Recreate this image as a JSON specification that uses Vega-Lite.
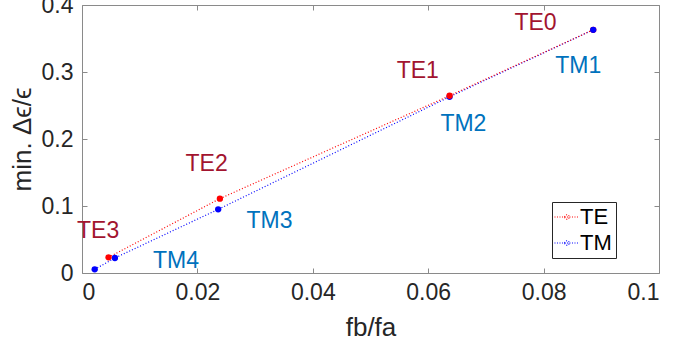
{
  "$schema": "https://vega.github.io/schema/vega-lite/v6.json",
  "autosize": "none",
  "padding": {"left": 82, "top": 5, "right": 14, "bottom": 89},
  "width": 577,
  "height": 268,
  "background": "white",
  "config": {
    "view": {"stroke": null},
    "font": "Liberation Sans",
    "axis": {
      "grid": false,
      "domainColor": "#8a8a8a",
      "tickColor": "#8a8a8a",
      "tickSize": -5,
      "labelFont": "Liberation Sans",
      "labelFontSize": 23,
      "labelColor": "#262626",
      "titleFont": "Liberation Sans",
      "titleFontWeight": "normal",
      "titleColor": "#262626",
      "titleFontSize": 26
    }
  },
  "datasets": {
    "pts": [
      {"mode": "TM", "x": 0.0022, "y": 0.0055},
      {"mode": "TM", "x": 0.0057, "y": 0.0224},
      {"mode": "TM", "x": 0.0236, "y": 0.095},
      {"mode": "TM", "x": 0.0637, "y": 0.263},
      {"mode": "TE", "x": 0.0046, "y": 0.0234},
      {"mode": "TE", "x": 0.0239, "y": 0.111},
      {"mode": "TE", "x": 0.0637, "y": 0.2646},
      {"mode": "TE", "x": 0.0886, "y": 0.363},
      {"mode": "TM", "x": 0.0886, "y": 0.363}
    ],
    "labels": [
      {"mode": "TE", "label": "TE0", "x": 0.0786, "y": 0.3726},
      {"mode": "TE", "label": "TE1", "x": 0.0582, "y": 0.3022},
      {"mode": "TE", "label": "TE2", "x": 0.0216, "y": 0.1624},
      {"mode": "TE", "label": "TE3", "x": 0.0028, "y": 0.063},
      {"mode": "TM", "label": "TM1", "x": 0.086, "y": 0.3094},
      {"mode": "TM", "label": "TM2", "x": 0.0661, "y": 0.2221},
      {"mode": "TM", "label": "TM3", "x": 0.0325, "y": 0.0779},
      {"mode": "TM", "label": "TM4", "x": 0.0163, "y": 0.0182}
    ]
  },
  "layer": [
    {
      "data": {"name": "pts"},
      "mark": {"type": "line", "strokeDash": [1, 2], "strokeWidth": 1.2},
      "encoding": {
        "x": {"field": "x", "type": "quantitative", "scale": {"domain": [0, 0.1], "nice": false},
          "axis": {"values": [0, 0.02, 0.04, 0.06, 0.08, 0.1], "format": "~g", "title": "fb/fa", "labelPadding": 13, "titlePadding": 10}},
        "y": {"field": "y", "type": "quantitative", "scale": {"domain": [0, 0.4], "nice": false},
          "axis": {"values": [0, 0.1, 0.2, 0.3, 0.4], "format": "~g", "title": "min. Δϵ/ϵ", "labelPadding": 14, "titlePadding": 6}},
        "color": {"field": "mode", "type": "nominal",
          "scale": {"domain": ["TE", "TM"], "range": ["#ff0000", "#0000ff"]},
          "legend": {
            "title": null,
            "orient": "none",
            "legendX": 470,
            "legendY": 197,
            "strokeColor": "#262626",
            "fillColor": "white",
            "padding": 4,
            "labelFontSize": 22,
            "labelColor": "#000000",
            "labelFont": "Liberation Sans",
            "labelOffset": 2,
            "rowPadding": 4,
            "symbolType": "M-1.4,0H1.4M-0.25,0A0.25,0.25 0 1,1 0.25,0A0.25,0.25 0 1,1 -0.25,0",
            "symbolSize": 320,
            "symbolDash": [1, 1.5],
            "symbolStrokeWidth": 1.2
          }
        }
      }
    },
    {
      "data": {"name": "pts"},
      "mark": {"type": "point", "filled": true, "shape": "circle", "size": 40, "opacity": 1},
      "encoding": {
        "x": {"field": "x", "type": "quantitative", "axis": null},
        "y": {"field": "y", "type": "quantitative", "axis": null},
        "color": {"field": "mode", "type": "nominal",
          "scale": {"domain": ["TE", "TM"], "range": ["#ff0000", "#0000ff"]}, "legend": null}
      }
    },
    {
      "data": {"name": "pts"},
      "mark": {"type": "point", "opacity": 0},
      "encoding": {
        "x": {"field": "x", "type": "quantitative",
          "axis": {"orient": "top", "values": [0, 0.02, 0.04, 0.06, 0.08, 0.1], "labels": false, "title": null}},
        "y": {"field": "y", "type": "quantitative",
          "axis": {"orient": "right", "values": [0, 0.1, 0.2, 0.3, 0.4], "labels": false, "title": null}}
      }
    },
    {
      "data": {"name": "labels"},
      "mark": {"type": "text", "fontSize": 23, "font": "Liberation Sans", "align": "center", "baseline": "middle"},
      "encoding": {
        "x": {"field": "x", "type": "quantitative", "axis": null},
        "y": {"field": "y", "type": "quantitative", "axis": null},
        "text": {"field": "label"},
        "color": {"field": "mode", "type": "nominal",
          "scale": {"domain": ["TE", "TM"], "range": ["#a2142f", "#0072bd"]}, "legend": null}
      }
    }
  ],
  "resolve": {"axis": {"x": "independent", "y": "independent"}, "scale": {"color": "independent"}}
}
